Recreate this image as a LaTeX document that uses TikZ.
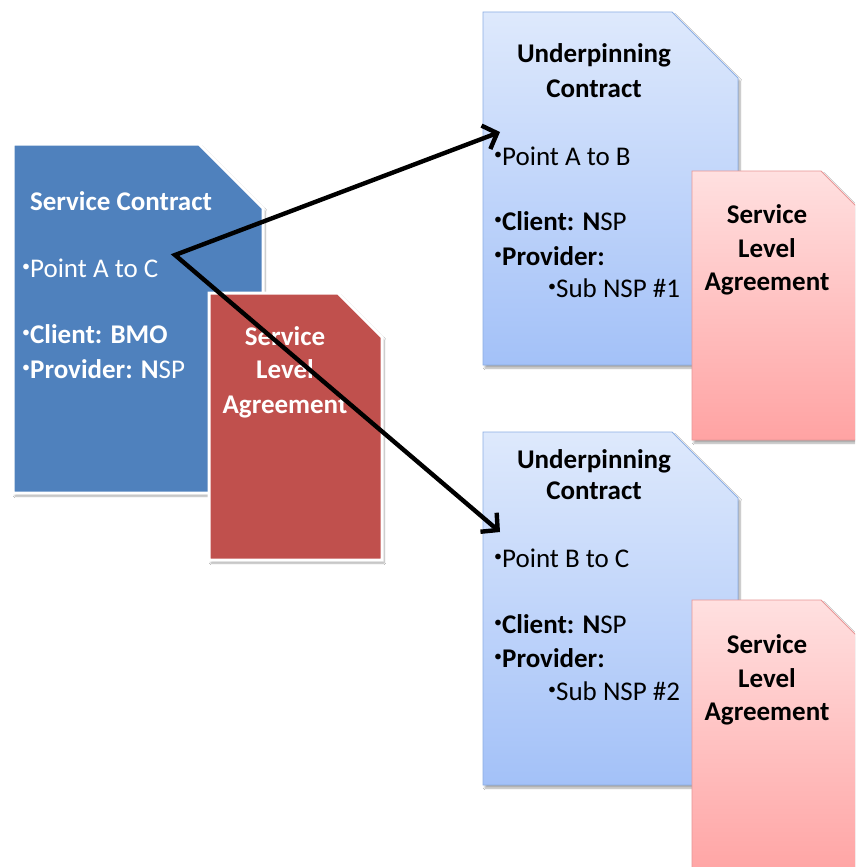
\documentclass[tikz,border=0pt]{standalone}
\usepackage{fontspec}
\setmainfont{Carlito}
\usetikzlibrary{arrows.meta,shadows.blur}
\definecolor{scblue}{HTML}{4F81BD}
\definecolor{scred}{HTML}{C0504D}
\definecolor{ucTop}{RGB}{222,233,252}
\definecolor{ucBot}{RGB}{163,193,248}
\definecolor{ucLine}{RGB}{140,174,228}
\definecolor{slaTop}{RGB}{255,224,224}
\definecolor{slaBot}{RGB}{255,163,163}
\definecolor{slaLine}{RGB}{232,150,150}
% document outline with a clipped top-right corner
\newcommand\docshape[5]{(#1,#2) -- ({#3-#5},#2) -- (#3,{#2+#5}) -- (#3,#4) -- (#1,#4) -- cycle}
% small raised list bullet
\newcommand\bul{\raisebox{0.22em}{\fontsize{16pt}{16pt}\selectfont\textbullet}}
\tikzset{
  docshadow/.style={blur shadow={shadow xshift=2pt,shadow yshift=-3pt,shadow opacity=35,shadow blur steps=6}},
  darkdoc/.style={docshadow,draw=white,line width=3pt},
  lightdoc/.style={docshadow,draw=#1,line width=0.8pt},
  txt/.style={inner sep=0pt,font=\fontsize{27pt}{32pt}\selectfont},
  wtxt/.style={txt,text=white},
  btxt/.style={txt,text=black},
  barb/.tip={Straight Barb[length=12pt,width=25pt,line width=4.4pt]},
  link/.style={line width=4.4pt,line join=miter,barb-barb},
}
\begin{document}
\begin{tikzpicture}[x=1pt,y=-1pt]
\useasboundingbox (0,0) rectangle (855,867);
\clip (0,0) rectangle (855,867);
\fill[white] (0,0) rectangle (855,867);

% service contract
\path[darkdoc,fill=scblue] \docshape{13}{144}{263}{493}{64};
\node[wtxt,anchor=base] (sc-title) at (121,210) {\textbf{Service Contract}};
\node[wtxt,anchor=base west] (sc-pt) at (22,277) {\bul Point A to C};
\node[wtxt,anchor=base west] (sc-cl) at (22,343) {\bul\textbf{Client: BMO}};
\node[wtxt,anchor=base west] (sc-pr) at (22,378) {\bul\textbf{Provider: N}SP};

% its service level agreement
\path[darkdoc,fill=scred] \docshape{209}{293}{382}{560}{44};
\node[wtxt,anchor=base] (sla0-a) at (285,345) {\textbf{Service}};
\node[wtxt,anchor=base] (sla0-b) at (285,378) {\textbf{Level}};
\node[wtxt,anchor=base] (sla0-c) at (285,413) {\textbf{Agreement}};

% underpinning contract 1
\path[lightdoc=ucLine,top color=ucTop,bottom color=ucBot] \docshape{483}{12}{738}{365}{66};
\coordinate (uc1-in) at (500,132);
\node[btxt,anchor=base] (uc1-t1) at (594,63) {\textbf{Underpinning}};
\node[btxt,anchor=base] (uc1-t2) at (594,97) {\textbf{Contract}};
\node[btxt,anchor=base west] (uc1-pt) at (494,165) {\bul Point A to B};
\node[btxt,anchor=base west] (uc1-cl) at (494,230) {\bul\textbf{Client: N}SP};
\node[btxt,anchor=base west] (uc1-pr) at (494,265) {\bul\textbf{Provider:}};
\node[btxt,anchor=base west] (uc1-sub) at (548,297) {\bul Sub NSP \#1};

\path[lightdoc=slaLine,top color=slaTop,bottom color=slaBot] \docshape{692}{171}{865}{440}{44};
\node[btxt,anchor=base] (sla1-a) at (767,223) {\textbf{Service}};
\node[btxt,anchor=base] (sla1-b) at (767,257) {\textbf{Level}};
\node[btxt,anchor=base] (sla1-c) at (767,290) {\textbf{Agreement}};

% underpinning contract 2
\path[lightdoc=ucLine,top color=ucTop,bottom color=ucBot] \docshape{483}{432}{738}{785}{66};
\coordinate (uc2-in) at (500,532);
\node[btxt,anchor=base] (uc2-t1) at (594,468) {\textbf{Underpinning}};
\node[btxt,anchor=base] (uc2-t2) at (594,499) {\textbf{Contract}};
\node[btxt,anchor=base west] (uc2-pt) at (494,567) {\bul Point B to C};
\node[btxt,anchor=base west] (uc2-cl) at (494,633) {\bul\textbf{Client: N}SP};
\node[btxt,anchor=base west] (uc2-pr) at (494,667) {\bul\textbf{Provider:}};
\node[btxt,anchor=base west] (uc2-sub) at (548,700) {\bul Sub NSP \#2};

\path[lightdoc=slaLine,top color=slaTop,bottom color=slaBot] \docshape{692}{600}{865}{880}{44};
\node[btxt,anchor=base] (sla2-a) at (767,653) {\textbf{Service}};
\node[btxt,anchor=base] (sla2-b) at (767,687) {\textbf{Level}};
\node[btxt,anchor=base] (sla2-c) at (767,720) {\textbf{Agreement}};

% split of the end-to-end service
\coordinate (split) at (175,255);
\draw[link] (uc1-in) -- (split) -- (uc2-in);
\end{tikzpicture}
\end{document}
